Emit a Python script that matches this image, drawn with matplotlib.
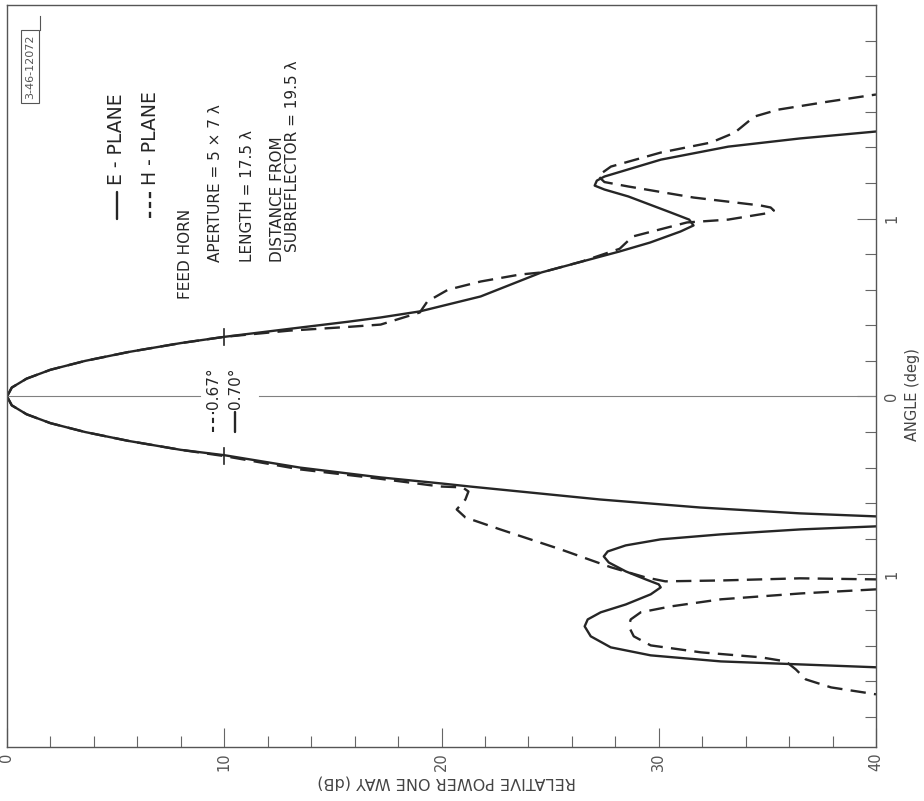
import matplotlib.pyplot as plt
import numpy as np

# E-plane (solid) and H-plane (dashed) patterns: relative power (dB) vs angle (deg)
# positive-angle side
e_up_db = [0, 0.22, 0.9, 2.0, 3.6, 5.6, 8.0, 10.0, 13.0, 15.7, 17.2, 19.0, 21.8, 24.6,
           28.2, 29.6, 31.0, 31.6, 31.4, 30.55, 28.6, 27.5, 27.05, 27.15, 27.5, 30.1, 33.2,
           36.5, 40.0]
e_up_ang = [0, 0.05, 0.10, 0.15, 0.20, 0.25, 0.30, 0.335, 0.38, 0.42, 0.444, 0.478, 0.562, 0.697,
            0.815, 0.865, 0.927, 0.961, 0.994, 1.034, 1.124, 1.163, 1.185, 1.213, 1.236, 1.331,
            1.404, 1.45, 1.489]
h_up_db = [0, 0.22, 0.9, 2.0, 3.6, 5.6, 8.0, 10.0, 13.0, 15.6, 17.2, 19.0, 19.35, 20.3,
           21.8, 23.6, 24.6, 26.5, 28.2, 28.8, 31.3, 33.2, 34.9, 35.3, 35.15, 34.7, 31.6, 28.6,
           27.5, 27.2, 27.8, 30.1, 32.4, 33.5, 34.4, 35.5, 37.8, 40.0]
h_up_ang = [0, 0.05, 0.10, 0.15, 0.20, 0.25, 0.30, 0.335, 0.37, 0.39, 0.404, 0.472, 0.534, 0.60,
            0.646, 0.685, 0.697, 0.76, 0.83, 0.899, 0.978, 0.994, 1.028, 1.045, 1.062, 1.073, 1.118,
            1.18, 1.205, 1.24, 1.292, 1.371, 1.427, 1.483, 1.573, 1.612, 1.657, 1.697]

# negative-angle side
e_lo_db = [0, 0.22, 0.9, 2.0, 3.6, 5.6, 8.0, 10.0, 13.5, 17.2, 20.0, 21.3, 23.6, 27.3,
           31.9, 36.5, 40.0]
e_lo_ang = [0, -0.05, -0.10, -0.15, -0.20, -0.25, -0.30, -0.33, -0.40, -0.455, -0.489, -0.506,
            -0.534, -0.579, -0.624, -0.657, -0.674]
e_side_db = [40.0, 36.54, 32.86, 30.09, 28.48, 27.65, 27.47, 27.70, 28.48, 29.40, 30.0, 30.09,
             29.63, 28.48, 27.33, 26.73, 26.59, 26.87, 27.79, 29.63, 32.86, 36.54, 40.0]
e_side_ang = [-0.730, -0.747, -0.775, -0.803, -0.837, -0.871, -0.899, -0.933, -0.983, -1.028,
              -1.056, -1.073, -1.112, -1.169, -1.213, -1.253, -1.292, -1.348, -1.410, -1.455,
              -1.489, -1.506, -1.522]
h_lo_db = [0, 0.22, 0.9, 2.0, 3.6, 5.6, 8.0, 10.0, 13.5, 17.0, 19.95, 20.97, 21.24, 21.1, 20.7,
           21.1, 22.7, 25.5, 27.8, 29.4, 30.3, 32.9, 36.5, 40.0]
h_lo_ang = [0, -0.05, -0.10, -0.15, -0.20, -0.25, -0.30, -0.335, -0.41, -0.46, -0.506, -0.511,
            -0.534, -0.579, -0.635, -0.68, -0.747, -0.86, -0.96, -1.017, -1.039, -1.034, -1.022,
            -1.028]
h_side_db = [40.0, 36.54, 32.86, 30.55, 29.17, 28.71, 28.62, 28.85, 29.63, 31.94, 34.70, 35.85,
             36.31, 36.77, 37.93, 40.0]
h_side_ang = [-1.084, -1.107, -1.140, -1.180, -1.213, -1.253, -1.292, -1.348, -1.399, -1.438,
              -1.466, -1.489, -1.534, -1.590, -1.635, -1.674]

db_ticks = [0, 10, 20, 30, 40]
ang_ticks = [-1, 0, 1]
ang_labels = ['1', '0', '1']

INK = '#262626'
fig = plt.figure(figsize=(9.24, 8.01), dpi=100)
ax = fig.add_axes([7 / 924, 54 / 801, 869 / 924, 742 / 801])

solid = dict(color=INK, lw=1.7, solid_capstyle='round', solid_joinstyle='round')
dashed = dict(color=INK, lw=1.7, dashes=(6.5, 3.5))
ax.plot(e_up_db, e_up_ang, **solid)
ax.plot(e_lo_db, e_lo_ang, **solid)
ax.plot(e_side_db, e_side_ang, **solid)
ax.plot(h_up_db, h_up_ang, **dashed)
ax.plot(h_lo_db, h_lo_ang, **dashed)
ax.plot(h_side_db, h_side_ang, **dashed)

# zero-angle reference line, broken around the beamwidth labels
ax.plot([0, 8.9], [0, 0], color='#808080', lw=0.8)
ax.plot([11.6, 40], [0, 0], color='#808080', lw=0.8)

# 10 dB beamwidth marks
for a in (0.335, -0.335):
    ax.plot([10, 10], [a - 0.045, a + 0.045], color=INK, lw=1.2)

ax.set_xlim(0, 40)
ax.set_ylim(-1.97, 2.2)

for s in ax.spines.values():
    s.set_color('#555555')
    s.set_linewidth(1.0)

ax.set_xticks(db_ticks)
ax.set_xticks(np.arange(0, 41, 2), minor=True)
ax.set_xticklabels([str(t) for t in db_ticks], rotation=90, fontsize=10.5, color='#555555')
ax.tick_params(axis='x', which='major', direction='in', length=14, width=0.8, color='#666666', pad=4)
ax.tick_params(axis='x', which='minor', direction='in', length=8, width=0.8, color='#666666')

ax.yaxis.tick_right()
ax.set_yticks(ang_ticks)
ax.set_yticks(np.arange(-1.8, 2.01, 0.2), minor=True)
ax.set_yticklabels(ang_labels, rotation=90, fontsize=10.5, color='#555555', va='center')
ax.tick_params(axis='y', which='major', direction='in', length=14, width=0.8, color='#666666', pad=6)
ax.tick_params(axis='y', which='minor', direction='in', length=8, width=0.8, color='#666666')

fig.text(447 / 924, 1 - 782 / 801, 'RELATIVE POWER ONE WAY (dB)', rotation=180, ha='center',
         va='center', fontsize=11.5, color='#444444')
fig.text(912 / 924, 1 - 395 / 801, 'ANGLE (deg)', rotation=90, ha='center', va='center',
         fontsize=10.5, color='#444444')

# legend drawn as in the original lettering
txt = dict(rotation=90, fontsize=11, color=INK, ha='center', va='bottom')
big = dict(txt, fontsize=13.5)
ax.plot([5.05, 5.05], [1.15, 1.0], **solid)
ax.text(5.05, 1.19, 'E - PLANE', **big)
ax.plot([6.6, 6.6], [1.15, 1.0], color=INK, lw=1.7, dashes=(2.6, 1.6))
ax.text(6.6, 1.19, 'H - PLANE', **big)
ax.text(8.2, 0.55, 'FEED HORN', **txt)
ax.text(9.6, 0.755, 'APERTURE = 5 \u00d7 7 \u03bb', **txt)
ax.text(11.05, 0.755, 'LENGTH = 17.5 \u03bb', **txt)
ax.text(12.45, 0.755, 'DISTANCE FROM', **txt)
ax.text(13.15, 0.81, 'SUBREFLECTOR = 19.5 \u03bb', **txt)

# beamwidth labels
ax.plot([9.5, 9.5], [-0.2, -0.09], color=INK, lw=1.5, dashes=(2.5, 1.8))
ax.text(9.5, -0.07, '0.67\u00b0', **txt)
ax.plot([10.5, 10.5], [-0.2, -0.09], **solid)
ax.text(10.5, -0.07, '0.70\u00b0', **txt)

# drawing number box
ax.text(1.06, 1.854, '3-46-12072', rotation=90, fontsize=8, color='#555555', ha='center',
        va='center', bbox=dict(boxstyle='square,pad=0.35', fc='white', ec='#555555', lw=0.8))
ax.plot([1.52, 1.52], [2.14, 2.06], color='#555555', lw=0.8)

fig.savefig('out.png', dpi=100)
